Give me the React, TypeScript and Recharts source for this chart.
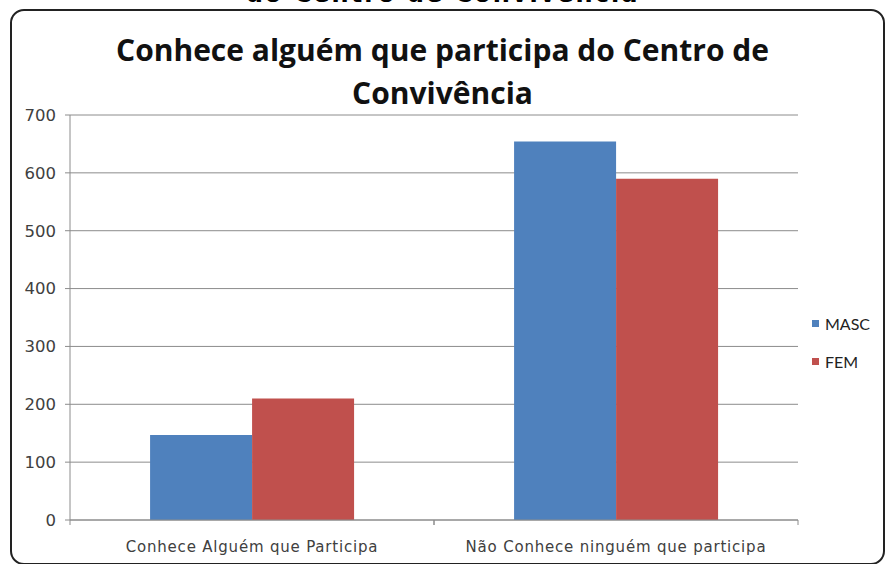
import { BarChart, Bar, XAxis, YAxis, CartesianGrid, Legend } from 'recharts'

const categories = ['Conhece Alguém que Participa', 'Não Conhece ninguém que participa']
const masc = [147, 654]
const fem = [210, 590]
const yTicks = [0, 100, 200, 300, 400, 500, 600, 700]

const data = categories.map((name, i) => ({ name, MASC: masc[i], FEM: fem[i] }))

const W = 885
const H = 564
const PLOT_LEFT = 70
const PLOT_RIGHT = 798
const HALF_BAND = (PLOT_RIGHT - PLOT_LEFT) / categories.length / 2

const COLORS = { MASC: '#4F81BD', FEM: '#C0504D' }
const AXIS_GRAY = '#8c8c8c'
const LABEL = '#404040'

function CategoryTick({ x, y, payload }: any) {
  return (
    <g>
      <line x1={x - HALF_BAND} y1={y - 8} x2={x - HALF_BAND} y2={y - 3} stroke={AXIS_GRAY} />
      <line x1={x + HALF_BAND} y1={y - 8} x2={x + HALF_BAND} y2={y - 3} stroke={AXIS_GRAY} />
      <text
        x={x}
        y={y + 24}
        textAnchor="middle"
        fill={LABEL}
        fontSize={15}
        letterSpacing={0.8}
        fontFamily="DejaVu Sans"
      >
        {payload.value}
      </text>
    </g>
  )
}

function LegendBox() {
  return (
    <div style={{ fontFamily: 'Lato, sans-serif', fontSize: 16, color: '#222', marginTop: 121, paddingLeft: 14 }}>
      {(['MASC', 'FEM'] as const).map((k, i) => (
        <div key={k} style={{ display: 'flex', alignItems: 'center', height: 20, marginTop: i ? 18 : 0 }}>
          <span style={{ width: 7, height: 7, background: COLORS[k], marginRight: 6 }} />
          {k}
        </div>
      ))}
    </div>
  )
}

export default function App() {
  return (
    <div style={{ position: 'absolute', left: 0, top: 0, width: W, height: H, overflow: 'hidden', background: '#fff' }}>
      {/* title of the page above, cut off by the screenshot */}
      <div
        style={{
          position: 'absolute', left: 0, width: W, top: -20, lineHeight: '28px', textAlign: 'center',
          fontFamily: 'DejaVu Sans', fontWeight: 700, fontSize: 24, letterSpacing: 2, color: '#000',
        }}
      >
        do Centro de Convivência
      </div>
      {/* chart frame */}
      <div
        style={{
          position: 'absolute', left: 10, top: 9, width: 871, height: 552,
          border: '2px solid #222', borderRadius: 14, boxSizing: 'content-box',
        }}
      />
      <div
        style={{
          position: 'absolute', left: 0, width: W, top: 28, textAlign: 'center',
          fontFamily: 'Open Sans', fontWeight: 700, fontSize: 30, lineHeight: '43px', color: '#111',
        }}
      >
        Conhece alguém que participa do Centro de
        <br />
        Convivência
      </div>
      <div style={{ position: 'absolute', left: 0, top: 0 }}>
        <BarChart
          width={W}
          height={H}
          data={data}
          margin={{ top: 115, right: 0, bottom: 14, left: 10 }}
          barCategoryGap="22%"
          barGap={0}
        >
          <CartesianGrid vertical={false} stroke={AXIS_GRAY} />
          <XAxis
            dataKey="name"
            height={30}
            stroke={AXIS_GRAY}
            tickLine={false}
            tick={<CategoryTick />}
            interval={0}
          />
          <YAxis
            width={60}
            domain={[0, 700]}
            ticks={yTicks}
            stroke={AXIS_GRAY}
            tickSize={5}
            tickMargin={9}
            tick={{ fill: LABEL, fontSize: 16.5, fontFamily: 'DejaVu Sans' }}
          />
          <Legend
            layout="vertical"
            align="right"
            verticalAlign="middle"
            content={<LegendBox />}
            wrapperStyle={{ width: 87 }}
          />
          <Bar dataKey="MASC" fill={COLORS.MASC} isAnimationActive={false} />
          <Bar dataKey="FEM" fill={COLORS.FEM} isAnimationActive={false} />
        </BarChart>
      </div>
    </div>
  )
}
